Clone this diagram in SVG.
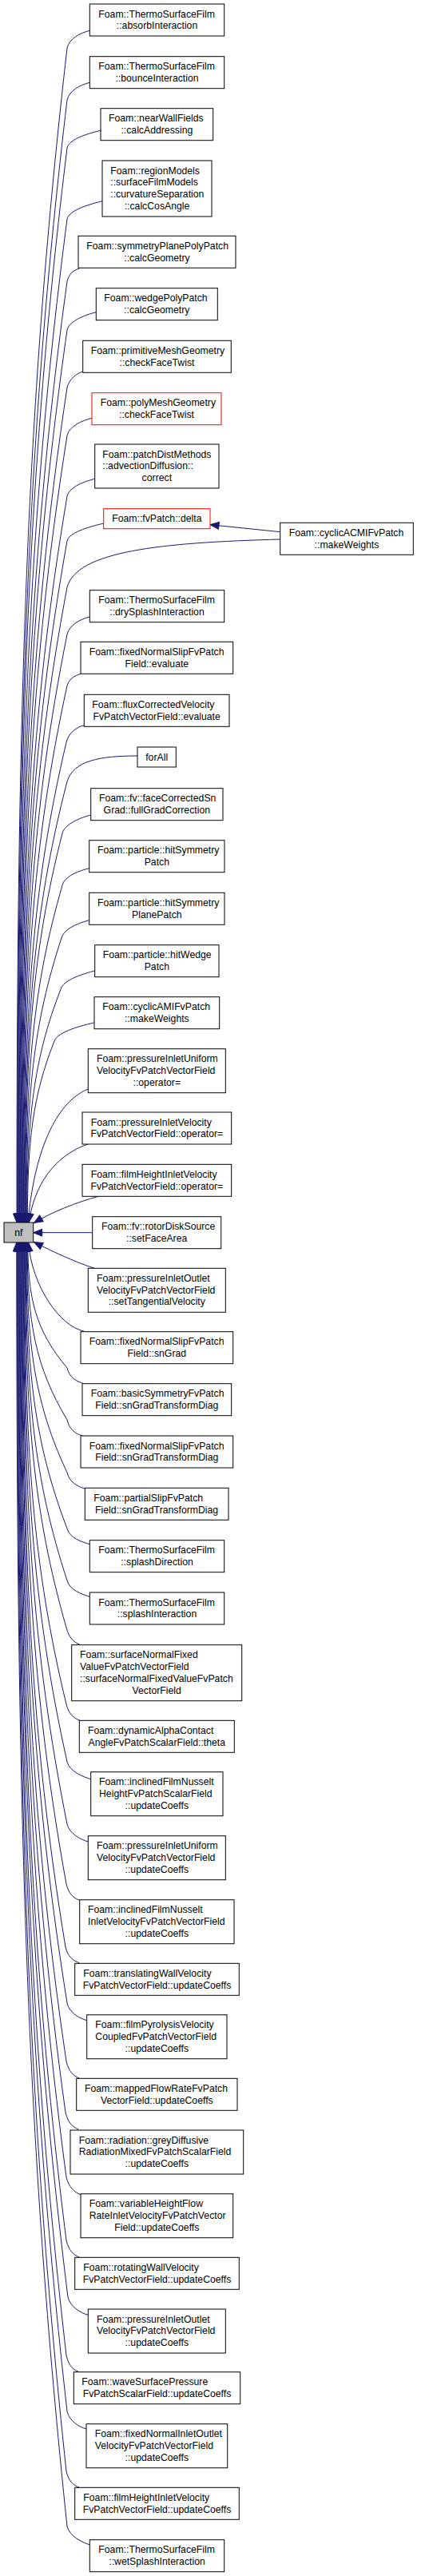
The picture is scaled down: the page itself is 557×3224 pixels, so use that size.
<svg xmlns="http://www.w3.org/2000/svg" width="557" height="3224" viewBox="0 0 557 3224">
<style>
.node rect{fill:#fff;stroke:#000;stroke-width:1}
.red rect{stroke:#ff0000}
.nf rect{fill:#bfbfbf}
text{font-family:"Liberation Sans",Arial,Helvetica,sans-serif;font-size:12.25px;fill:#000}
.c{text-anchor:middle}
.e{fill:none;stroke:#191970;stroke-width:1;marker-end:url(#ah)}
</style>
<defs>
<marker id="ah" markerUnits="userSpaceOnUse" markerWidth="12" markerHeight="10" refX="11" refY="4.5" orient="auto" viewBox="0 0 12 10" overflow="visible"><path d="M0,0 L11,4.5 L0,9 z" fill="#191970" stroke="#191970" stroke-width="1"/></marker>
</defs>
<rect x="0" y="0" width="557" height="3224" fill="#fff"/>
<g id="edges">
<path class="e" d="M112.3,38.3 C100.3,41.3 87,48 84,60 C33.6,501 21,868.5 21,1530"/>
<path class="e" d="M112.3,103.3 C100.3,106.3 87,113 84,125 C34.2,546.5 21.7,898 21.7,1530"/>
<path class="e" d="M126,163.3 C114,166.3 87,173 84,185 C34.7,588.5 22.4,925 22.4,1530"/>
<path class="e" d="M128,251.7 C116,254.7 87,262 84,274 C35.3,650.8 23.1,965 23.1,1530"/>
<path class="e" d="M99.3,336 C91,339 87,342 84,352 C35.8,705.4 23.8,1000 23.8,1530"/>
<path class="e" d="M120.3,390.7 C108.3,393.7 87,401 84,413 C36.4,748 24.5,1027.3 24.5,1530"/>
<path class="e" d="M103.7,465 C95,468 87,474 84,485 C37,798.5 25.2,1060 25.2,1530"/>
<path class="e" d="M115,523.3 C103,526.3 87,533 84,545 C37.5,840.5 25.9,1087 25.9,1530"/>
<path class="e" d="M118.7,599.3 C106.7,602.3 87,609 84,621 C38.1,893.7 26.6,1121 26.6,1530"/>
<path class="e" d="M129.7,655 C117.7,658 87,665 84,677 C38.6,933 27.3,1146 27.3,1530"/>
<path class="e" d="M350.7,665.7 L263,656.7"/>
<path class="e" d="M350.7,675 C200,679 96,690 84,735 C39.2,973.5 28,1172.2 28,1530"/>
<path class="e" d="M112.3,772 C100.3,775 87,782 84,794 C39.8,1014.8 28.7,1199 28.7,1530"/>
<path class="e" d="M101,843.3 C93,846 87,849 84,858 C40.3,1059.6 29.4,1228 29.4,1530"/>
<path class="e" d="M105.3,907.7 C96,910 86,917 83,929 C40.7,1109.3 30.1,1259.5 30.1,1530"/>
<path class="e" d="M172,946 C125,946 92,952 84,978 C41.4,1143.6 30.8,1281.6 30.8,1530"/>
<path class="e" d="M113.7,1020 C101.7,1023 81,1031 78,1043 C40.8,1189 31.5,1311 31.5,1530"/>
<path class="e" d="M111.7,1086.7 C99.7,1089.7 81,1096 78,1108 C41.4,1234.6 32.2,1340 32.2,1530"/>
<path class="e" d="M111.7,1151.7 C99.7,1154.7 80,1162 77,1174 C41.7,1280.8 32.9,1370 32.9,1530"/>
<path class="e" d="M118.7,1215 C106.7,1218 79,1226 76,1238 C42.1,1325.6 33.6,1399 33.6,1530"/>
<path class="e" d="M118,1280 C104,1283 72,1291 68,1303 C41,1371 34.3,1428 34.3,1530"/>
<path class="e" d="M110.3,1363 C80,1375 45,1420 35,1530"/>
<path class="e" d="M110,1432 C80,1442 45,1470 36,1530"/>
<path class="e" d="M123.3,1497.3 C95,1505 65,1517 42.5,1530.5"/>
<path class="e" d="M115.7,1542.7 L41.7,1542.7"/>
<path class="e" d="M118.3,1587.3 C95,1580 65,1566 42.5,1554.5"/>
<path class="e" d="M105,1666 C75,1660 40,1610 35.5,1555"/>
<path class="e" d="M105,1731.7 C95,1728.7 87,1724 84,1712 C44.6,1665 34.8,1625.7 34.8,1555"/>
<path class="e" d="M103.3,1797 C93.3,1794 87,1789 84,1777 C44.1,1710.4 34.1,1655 34.1,1555"/>
<path class="e" d="M106.7,1863.3 C96.7,1860.3 87,1855 84,1843 C43.5,1756.6 33.4,1684.6 33.4,1555"/>
<path class="e" d="M112.3,1932.7 C102.3,1929.7 87,1925 84,1913 C43,1805.6 32.7,1716 32.7,1555"/>
<path class="e" d="M112.3,1998.3 C102.3,1995.3 87,1990 84,1978 C42.4,1851.1 32,1745.4 32,1555"/>
<path class="e" d="M100,2058.3 C92,2055.3 86,2049 83,2037 C41.6,1892.4 31.3,1771.9 31.3,1555"/>
<path class="e" d="M100,2153.3 C92,2150.3 86,2145 83,2133 C41.1,1959.6 30.6,1815.1 30.6,1555"/>
<path class="e" d="M113.7,2226.7 C103.7,2223.7 87,2217 84,2205 C40.7,2010 29.9,1847.5 29.9,1555"/>
<path class="e" d="M110.3,2305 C100.3,2302 87,2295 84,2283 C40.2,2064.6 29.2,1882.6 29.2,1555"/>
<path class="e" d="M99.7,2378.3 C91.7,2375.3 86,2370 83,2358 C39.4,2117.1 28.5,1916.4 28.5,1555"/>
<path class="e" d="M99.3,2456.7 C91.3,2453.7 85,2449 82,2437 C38.6,2172.4 27.8,1951.9 27.8,1555"/>
<path class="e" d="M108.7,2528.7 C98.7,2525.7 87,2519 84,2507 C38.5,2221.4 27.1,1983.4 27.1,1555"/>
<path class="e" d="M99.3,2601 C91.3,2598 86,2592 83,2580 C37.7,2272.5 26.4,2016.3 26.4,1555"/>
<path class="e" d="M98.3,2665 C90.3,2662 85,2656 82,2644 C37,2317.3 25.7,2045 25.7,1555"/>
<path class="e" d="M101,2746.7 C93,2743.7 86,2737 83,2725 C36.6,2374 25,2081.5 25,1555"/>
<path class="e" d="M99.3,2825 C91.3,2822 86,2816 83,2804 C36,2429.3 24.3,2117 24.3,1555"/>
<path class="e" d="M110,2897.3 C100,2894.3 88,2887 85,2875 C35.9,2479 23.6,2149 23.6,1555"/>
<path class="e" d="M98.3,2968.3 C90.3,2965.3 86,2960 83,2948 C34.9,2530.1 22.9,2181.9 22.9,1555"/>
<path class="e" d="M108,3040 C98,3037 87,3030 84,3018 C34.6,2579.1 22.2,2213.4 22.2,1555"/>
<path class="e" d="M99.3,3113.3 C91.3,3110.3 86,3105 83,3093 C33.8,2631.6 21.5,2247.1 21.5,1555"/>
<path class="e" d="M112.7,3185 C102.7,3182 87,3174 84,3162 C33.4,2679.9 20.8,2278.2 20.8,1555"/>
</g>
<g id="n1" class="node"><rect x="112.3" y="5" width="168.4" height="40"/><text x="123.3" y="21.5">Foam::ThermoSurfaceFilm</text><text class="c" x="196.5" y="36.3">::absorbInteraction</text></g>
<g id="n2" class="node"><rect x="112.3" y="70.7" width="168.4" height="40"/><text x="123.3" y="87.2">Foam::ThermoSurfaceFilm</text><text class="c" x="196.5" y="102">::bounceInteraction</text></g>
<g id="n3" class="node"><rect x="126" y="135.7" width="140.7" height="40"/><text x="136" y="152.2">Foam::nearWallFields</text><text class="c" x="196.35" y="167">::calcAddressing</text></g>
<g id="n4" class="node"><rect x="128" y="201" width="137" height="70"/><text x="138.3" y="217.5">Foam::regionModels</text><text x="138.3" y="232.3">::surfaceFilmModels</text><text x="138.3" y="247.1">::curvatureSeparation</text><text class="c" x="196.5" y="261.9">::calcCosAngle</text></g>
<g id="n5" class="node"><rect x="98" y="295.3" width="197" height="40"/><text x="108.3" y="311.8">Foam::symmetryPlanePolyPatch</text><text class="c" x="196.5" y="326.6">::calcGeometry</text></g>
<g id="n6" class="node"><rect x="120.3" y="360.7" width="152" height="40"/><text x="130.3" y="377.2">Foam::wedgePolyPatch</text><text class="c" x="196.3" y="392">::calcGeometry</text></g>
<g id="n7" class="node"><rect x="103.7" y="426.3" width="185.6" height="40"/><text x="113.7" y="442.8">Foam::primitiveMeshGeometry</text><text class="c" x="196.5" y="457.6">::checkFaceTwist</text></g>
<g id="n8" class="node red"><rect x="115" y="491.7" width="162" height="40"/><text x="125.7" y="508.2">Foam::polyMeshGeometry</text><text class="c" x="196" y="523">::checkFaceTwist</text></g>
<g id="n9" class="node"><rect x="118.7" y="556" width="155.3" height="55"/><text x="128.3" y="572.5">Foam::patchDistMethods</text><text x="128.3" y="587.3">::advectionDiffusion::</text><text class="c" x="196.35" y="602.1">correct</text></g>
<g id="n10" class="node red"><rect x="129.7" y="636.7" width="133.3" height="25"/><text class="c" x="196.35" y="653.2">Foam::fvPatch::delta</text></g>
<g id="nR" class="node"><rect x="350.7" y="654.3" width="166.6" height="40"/><text x="361.7" y="670.8">Foam::cyclicACMIFvPatch</text><text class="c" x="434" y="685.6">::makeWeights</text></g>
<g id="n11" class="node"><rect x="112.3" y="738.7" width="168.4" height="40"/><text x="123.3" y="755.2">Foam::ThermoSurfaceFilm</text><text class="c" x="196.5" y="770">::drySplashInteraction</text></g>
<g id="n12" class="node"><rect x="101" y="803.3" width="190.7" height="40"/><text x="111.7" y="819.8">Foam::fixedNormalSlipFvPatch</text><text class="c" x="196.35" y="834.6">Field::evaluate</text></g>
<g id="n13" class="node"><rect x="105.3" y="869.3" width="181.7" height="40"/><text x="115.3" y="885.8">Foam::fluxCorrectedVelocity</text><text class="c" x="196.15" y="900.6">FvPatchVectorField::evaluate</text></g>
<g id="n14" class="node"><rect x="172" y="935" width="48.3" height="25"/><text class="c" x="196.15" y="951.5">forAll</text></g>
<g id="n15" class="node"><rect x="113.7" y="986.7" width="165.3" height="40"/><text x="124" y="1003.2">Foam::fv::faceCorrectedSn</text><text class="c" x="196.35" y="1018">Grad::fullGradCorrection</text></g>
<g id="n16" class="node"><rect x="111.7" y="1051.7" width="169.3" height="40"/><text x="122" y="1068.2">Foam::particle::hitSymmetry</text><text class="c" x="196.35" y="1083">Patch</text></g>
<g id="n17" class="node"><rect x="111.7" y="1117.3" width="169.3" height="40"/><text x="122" y="1133.8">Foam::particle::hitSymmetry</text><text class="c" x="196.35" y="1148.6">PlanePatch</text></g>
<g id="n18" class="node"><rect x="118.7" y="1182.7" width="155.3" height="40"/><text x="128.7" y="1199.2">Foam::particle::hitWedge</text><text class="c" x="196.35" y="1214">Patch</text></g>
<g id="n19" class="node"><rect x="118" y="1247.7" width="156.7" height="40"/><text x="128.3" y="1264.2">Foam::cyclicAMIFvPatch</text><text class="c" x="196.35" y="1279">::makeWeights</text></g>
<g id="n20" class="node"><rect x="110.3" y="1312.7" width="172" height="55"/><text x="121" y="1329.2">Foam::pressureInletUniform</text><text x="121" y="1344">VelocityFvPatchVectorField</text><text class="c" x="196.3" y="1358.8">::operator=</text></g>
<g id="n21" class="node"><rect x="103" y="1392" width="186.7" height="40"/><text x="113.7" y="1408.5">Foam::pressureInletVelocity</text><text class="c" x="196.35" y="1423.3">FvPatchVectorField::operator=</text></g>
<g id="n22" class="node"><rect x="103" y="1457.3" width="186.7" height="40"/><text x="113.7" y="1473.8">Foam::filmHeightInletVelocity</text><text class="c" x="196.35" y="1488.6">FvPatchVectorField::operator=</text></g>
<g id="nf" class="node nf"><rect x="5" y="1530" width="36.7" height="25"/><text class="c" x="23.35" y="1546.5">nf</text></g>
<g id="n23" class="node"><rect x="115.7" y="1522.7" width="161" height="40"/><text x="127" y="1539.2">Foam::fv::rotorDiskSource</text><text class="c" x="196.2" y="1554">::setFaceArea</text></g>
<g id="n24" class="node"><rect x="110.3" y="1587.3" width="172" height="55"/><text x="121" y="1603.8">Foam::pressureInletOutlet</text><text x="121" y="1618.6">VelocityFvPatchVectorField</text><text class="c" x="196.3" y="1633.4">::setTangentialVelocity</text></g>
<g id="n25" class="node"><rect x="101" y="1666.7" width="190.7" height="40"/><text x="111.7" y="1683.2">Foam::fixedNormalSlipFvPatch</text><text class="c" x="196.35" y="1698">Field::snGrad</text></g>
<g id="n26" class="node"><rect x="103" y="1731.7" width="186.7" height="40"/><text x="113.7" y="1748.2">Foam::basicSymmetryFvPatch</text><text class="c" x="196.35" y="1763">Field::snGradTransformDiag</text></g>
<g id="n27" class="node"><rect x="101" y="1797" width="190.7" height="40"/><text x="111.7" y="1813.5">Foam::fixedNormalSlipFvPatch</text><text class="c" x="196.35" y="1828.3">Field::snGradTransformDiag</text></g>
<g id="n28" class="node"><rect x="106.3" y="1862.3" width="179.7" height="40"/><text x="117.3" y="1878.8">Foam::partialSlipFvPatch</text><text class="c" x="196.15" y="1893.6">Field::snGradTransformDiag</text></g>
<g id="n29" class="node"><rect x="112.3" y="1927.7" width="168.4" height="40"/><text x="123.3" y="1944.2">Foam::ThermoSurfaceFilm</text><text class="c" x="196.5" y="1959">::splashDirection</text></g>
<g id="n30" class="node"><rect x="112.3" y="1993" width="168.4" height="40"/><text x="123.3" y="2009.5">Foam::ThermoSurfaceFilm</text><text class="c" x="196.5" y="2024.3">::splashInteraction</text></g>
<g id="n31" class="node"><rect x="89.7" y="2058.7" width="213" height="70"/><text x="100" y="2075.2">Foam::surfaceNormalFixed</text><text x="100" y="2090">ValueFvPatchVectorField</text><text x="100" y="2104.8">::surfaceNormalFixedValueFvPatch</text><text class="c" x="196.2" y="2119.6">VectorField</text></g>
<g id="n32" class="node"><rect x="99.3" y="2153.3" width="194" height="40"/><text x="110" y="2169.8">Foam::dynamicAlphaContact</text><text class="c" x="196.3" y="2184.6">AngleFvPatchScalarField::theta</text></g>
<g id="n33" class="node"><rect x="113.7" y="2217.7" width="165.3" height="55"/><text x="124" y="2234.2">Foam::inclinedFilmNusselt</text><text x="124" y="2249">HeightFvPatchScalarField</text><text class="c" x="196.35" y="2263.8">::updateCoeffs</text></g>
<g id="n34" class="node"><rect x="110.3" y="2297.7" width="172" height="55"/><text x="121" y="2314.2">Foam::pressureInletUniform</text><text x="121" y="2329">VelocityFvPatchVectorField</text><text class="c" x="196.3" y="2343.8">::updateCoeffs</text></g>
<g id="n35" class="node"><rect x="99.7" y="2377.7" width="193.3" height="55"/><text x="110" y="2394.2">Foam::inclinedFilmNusselt</text><text x="110" y="2409">InletVelocityFvPatchVectorField</text><text class="c" x="196.35" y="2423.8">::updateCoeffs</text></g>
<g id="n36" class="node"><rect x="93.7" y="2457.3" width="205.6" height="40"/><text x="104.3" y="2473.8">Foam::translatingWallVelocity</text><text class="c" x="196.5" y="2488.6">FvPatchVectorField::updateCoeffs</text></g>
<g id="n37" class="node"><rect x="108.7" y="2521.7" width="175.3" height="55"/><text x="119.3" y="2538.2">Foam::filmPyrolysisVelocity</text><text x="119.3" y="2553">CoupledFvPatchVectorField</text><text class="c" x="196.35" y="2567.8">::updateCoeffs</text></g>
<g id="n38" class="node"><rect x="95.7" y="2601.3" width="201.3" height="40"/><text x="106" y="2617.8">Foam::mappedFlowRateFvPatch</text><text class="c" x="196.35" y="2632.6">VectorField::updateCoeffs</text></g>
<g id="n39" class="node"><rect x="88" y="2666" width="216.7" height="55"/><text x="98.7" y="2682.5">Foam::radiation::greyDiffusive</text><text x="98.7" y="2697.3">RadiationMixedFvPatchScalarField</text><text class="c" x="196.35" y="2712.1">::updateCoeffs</text></g>
<g id="n40" class="node"><rect x="101" y="2745.7" width="190.7" height="55"/><text x="111.7" y="2762.2">Foam::variableHeightFlow</text><text x="111.7" y="2777">RateInletVelocityFvPatchVector</text><text class="c" x="196.35" y="2791.8">Field::updateCoeffs</text></g>
<g id="n41" class="node"><rect x="93.7" y="2825.3" width="205.6" height="40"/><text x="104.3" y="2841.8">Foam::rotatingWallVelocity</text><text class="c" x="196.5" y="2856.6">FvPatchVectorField::updateCoeffs</text></g>
<g id="n42" class="node"><rect x="110.3" y="2890" width="172" height="55"/><text x="121" y="2906.5">Foam::pressureInletOutlet</text><text x="121" y="2921.3">VelocityFvPatchVectorField</text><text class="c" x="196.3" y="2936.1">::updateCoeffs</text></g>
<g id="n43" class="node"><rect x="92.3" y="2968.7" width="208.4" height="40"/><text x="102.3" y="2985.2">Foam::waveSurfacePressure</text><text class="c" x="196.5" y="3000">FvPatchScalarField::updateCoeffs</text></g>
<g id="n44" class="node"><rect x="108" y="3033.7" width="176.7" height="55"/><text x="118.7" y="3050.2">Foam::fixedNormalInletOutlet</text><text x="118.7" y="3065">VelocityFvPatchVectorField</text><text class="c" x="196.35" y="3079.8">::updateCoeffs</text></g>
<g id="n45" class="node"><rect x="93.7" y="3113.3" width="205.6" height="40"/><text x="104.3" y="3129.8">Foam::filmHeightInletVelocity</text><text class="c" x="196.5" y="3144.6">FvPatchVectorField::updateCoeffs</text></g>
<g id="n46" class="node"><rect x="112.3" y="3178.7" width="168.4" height="40"/><text x="123.3" y="3195.2">Foam::ThermoSurfaceFilm</text><text class="c" x="196.5" y="3210">::wetSplashInteraction</text></g>
</svg>
